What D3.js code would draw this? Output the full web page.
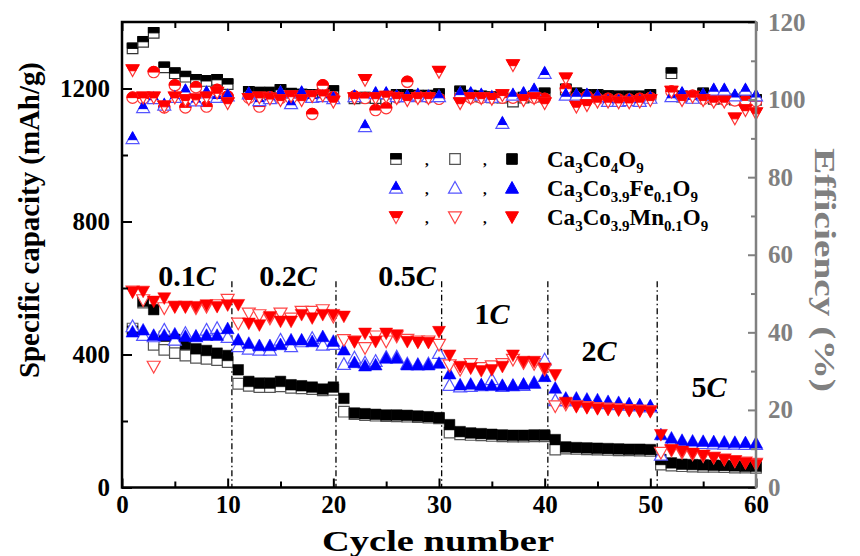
<!DOCTYPE html>
<html>
<head>
<meta charset="utf-8">
<script src="https://cdn.jsdelivr.net/npm/d3@7"></script>
<style>
  body { margin: 0; background: #fff; }
  svg { display: block; }
  text { font-family: "Liberation Serif", "Times New Roman", serif; font-weight: bold; }
</style>
</head>
<body>
<svg id="chart"></svg>
<script>
// capacity (mAh/g) per cycle 1..60
const coFill = [470,560,535,455,445,431,417,412,404,397, 354,319,314,314,319,309,306,302,296,302,
  268,224,222,220,218,218,217,215,213,210, 189,168,164,162,160,158,157,157,158,158,
  144,122,120,119,118,117,116,115,115,114, 84,74,70,69,68,67,66,65,64,64]
const coOpen = [478,556,429,414,404,397,390,387,383,377, 312,306,302,302,304,300,298,296,292,294,
  228,221,218,216,215,214,213,212,210,208, 165,160,158,157,155,154,153,153,154,154,
  114,117,116,115,114,113,112,112,111,110, 69,66,64,63,62,62,61,60,60,59]
const feFill = [468,474,458,458,462,455,455,458,458,478, 444,434,427,427,430,444,444,439,454,440,
  414,376,366,369,389,389,369,369,369,374, 342,309,311,309,307,307,307,311,314,334,
  299,269,269,266,264,259,256,252,249,246, 159,149,142,140,139,138,137,136,135,134]
const feOpen = [484,458,454,474,444,464,454,474,479,452, 424,417,414,414,444,424,439,449,429,431,
  371,390,375,380,392,393,372,370,372,404, 308,303,305,307,325,305,307,308,315,384,
  262,262,262,258,255,253,250,248,246,243, 98,135,134,133,133,132,131,131,130,130]
const mnFill = [588,590,560,570,544,544,544,549,544,549, 550,494,489,514,500,500,520,510,520,520,
  515,439,464,439,464,459,439,437,436,469, 398,364,359,351,354,364,398,379,379,359,
  339,256,244,240,237,235,233,232,230,229, 159,114,109,103,97,90,84,79,74,69]
const mnOpen = [590,564,364,540,544,544,540,544,549,565, 494,524,519,509,524,509,529,529,534,514,
  444,440,420,455,440,455,445,440,440,430, 368,355,372,360,365,372,385,375,372,355,
  245,250,245,243,240,238,236,234,232,230, 105,112,105,100,95,90,85,80,76,72]

// coulombic efficiency (%), no value on the first cycle of each rate
const coEff = [113.2,114.9,117.2,108.3,106.8,105.9,105.1,104.8,105.1,104.0, null,
  102.0,101.8,101.8,102.5,101.5,101.3,101.2,101.4,102.2, null,
  100.3,100.5,100.4,100.2,101.2,101.2,101.0,101.0,101.4, null,
  102.1,101.0,100.8,100.6,100.5,99.5,100.5,100.8,101.6, null,
  102.6,101.6,101.2,101.2,100.9,100.8,100.8,100.8,101.2, null,
  106.8,100.8,100.6,101.6,100.2,100.3,100.0,100.5,99.9]
const feEff = [90.0,98.0,100.3,98.6,100.6,102.3,99.7,101.8,100.6,101.0, null,
  101.5,99.8,100.3,101.8,99.0,101.8,100.6,100.8,100.3, null,
  100.8,93.1,101.6,101.6,100.8,100.8,101.2,100.8,100.8, null,
  101.6,101.6,101.2,100.6,93.9,101.2,101.6,102.5,106.8, null,
  101.2,101.2,101.2,100.8,99.6,99.6,99.8,99.6,100.4, null,
  100.8,101.6,100.4,101.2,102.5,102.5,101.0,102.5,101.0]
const mnEff = [107.6,100.6,100.6,98.3,100.6,99.9,100.1,100.6,101.8,99.1, null,
  100.2,100.6,100.3,99.9,100.9,99.9,100.9,101.1,99.5, null,
  100.4,105.1,100.4,100.8,100.4,99.9,100.4,100.4,107.2, null,
  99.1,100.4,100.4,100.2,101.2,108.9,99.9,100.4,99.1, null,
  105.5,98.2,98.6,99.5,99.5,99.3,99.3,99.5,99.9, null,
  102.1,99.9,100.8,99.9,99.5,99.5,95.2,97.3,96.5]
const circEff = [100.5,100.3,107.1,98.0,103.7,98.0,103.2,98.2,102.5,100.8, null,
  100.5,98.2,100.6,100.4,100.4,100.8,96.3,103.7,100.6, null,
  100.8,100.4,97.3,97.8,100.6,104.6,100.8,100.6,100.2, null,
  100.6,100.5,100.5,100.5,100.5,100.5,100.5,100.5,100.2, null,
  102.8,100.5,100.8,100.2,100.2,100.0,100.0,100.2,100.4, null,
  102.1,100.6,101.0,100.2,100.0,100.0,99.8,99.8,99.6]

const rateNames = ["0.1", "0.2", "0.5", "1", "2", "5"]
const rateX = [187, 288, 407, 492, 599, 709]
const rateY = [286, 286, 286, 324, 361, 397]
const boundaries = [10.4, 20.25, 30.25, 40.3, 50.65]
const capTicks = [0, 400, 800, 1200]
const effTicks = [0, 20, 40, 60, 80, 100, 120]
const cycleTicks = [0, 10, 20, 30, 40, 50, 60]

const w = 860, h = 556
const L = 122, R = 756, T = 22, B = 487.5

const svg = d3.select("#chart").attr("width", w).attr("height", h)

const x = d3.scaleLinear().domain([0, 60]).range([L, R])
const yCap = d3.scaleLinear().domain([0, 1400]).range([B, T])
const yEff = d3.scaleLinear().domain([0, 120]).range([B, T])

// marker paths
const sq = (cx, cy, r) => `M${cx-r},${cy-r}h${2*r}v${2*r}h${-2*r}Z`
const sqTop = (cx, cy, r) => `M${cx-r},${cy-r}h${2*r}v${r}h${-2*r}Z`
const tUp = (cx, cy, a) => `M${cx},${cy-a}L${cx+a},${cy+0.8*a}L${cx-a},${cy+0.8*a}Z`
const tUpTop = (cx, cy, a) => `M${cx},${cy-a}L${cx+0.667*a},${cy+0.2*a}L${cx-0.667*a},${cy+0.2*a}Z`
const tDn = (cx, cy, a) => `M${cx-a},${cy-0.8*a}L${cx+a},${cy-0.8*a}L${cx},${cy+a}Z`
const tDnTop = (cx, cy, a) => `M${cx-a},${cy-0.8*a}L${cx+a},${cy-0.8*a}L${cx+0.5*a},${cy+0.1*a}L${cx-0.5*a},${cy+0.1*a}Z`
const circ = (cx, cy, r) => `M${cx-r},${cy}A${r},${r} 0 1 1 ${cx+r},${cy}A${r},${r} 0 1 1 ${cx-r},${cy}Z`
const circTop = (cx, cy, r) => `M${cx-r},${cy}A${r},${r} 0 0 1 ${cx+r},${cy}Z`

const shapes = {
  sq: [sq, sqTop, 5.3], up: [tUp, tUpTop, 6.5], dn: [tDn, tDnTop, 6.5], ci: [circ, circTop, 5.7]
}

// dash-dot rate boundaries
svg.append("g").selectAll("line").data(boundaries).enter().append("line")
  .attr("x1", d => x(d)).attr("x2", d => x(d))
  .attr("y1", yCap(620)).attr("y2", B)
  .attr("stroke", "#000").attr("stroke-width", 1.3)
  .attr("stroke-dasharray", "6,3,1.5,3")

// capacity series
const drawOpen = (vals, shape, color) => {
  const [f, , r] = shapes[shape]
  svg.append("g").selectAll("path").data(vals).enter().append("path")
    .attr("d", (d, i) => f(x(i + 1), yCap(d), r))
    .attr("fill", "#fff").attr("stroke", color).attr("stroke-width", 1.2)
}
const drawFill = (vals, shape, color) => {
  const [f, , r] = shapes[shape]
  svg.append("g").selectAll("path").data(vals).enter().append("path")
    .attr("d", (d, i) => f(x(i + 1), yCap(d), r))
    .attr("fill", color).attr("stroke", color).attr("stroke-width", 0.5)
}
const drawHalf = (vals, shape, color, edge, scale) => {
  const [f, top, r] = shapes[shape]
  const g = svg.append("g")
  const pts = vals.map((v, i) => [i + 1, v]).filter(p => p[1] != null)
  const m = g.selectAll("g").data(pts).enter().append("g")
  m.append("path").attr("d", p => f(x(p[0]), scale(p[1]), r))
    .attr("fill", "#fff").attr("stroke", edge).attr("stroke-width", 1.2)
  m.append("path").attr("d", p => top(x(p[0]), scale(p[1]), r))
    .attr("fill", color).attr("stroke", color).attr("stroke-width", 1)
}

drawOpen(coOpen, "sq", "#555")
drawFill(coFill, "sq", "#000")
drawOpen(feOpen, "up", "#5555ff")
drawFill(feFill, "up", "#0000ff")
drawOpen(mnOpen, "dn", "#ff4444")
drawFill(mnFill, "dn", "#ff0000")

// efficiency series
drawHalf(coEff, "sq", "#000", "#333", yEff)
drawHalf(circEff, "ci", "#ff0000", "#ff3333", yEff)
drawHalf(feEff, "up", "#0000ff", "#5555ff", yEff)
drawHalf(mnEff, "dn", "#ff0000", "#ff3333", yEff)

// rate labels
const rl = svg.append("g").selectAll("text").data(rateNames).enter().append("text")
  .attr("x", (d, i) => rateX[i]).attr("y", (d, i) => rateY[i])
  .attr("text-anchor", "middle").attr("font-size", 30)
rl.append("tspan").text(d => d)
rl.append("tspan").attr("font-style", "italic").text("C")

// axes
const styleAx = (g, color) => {
  g.select(".domain").remove()
  g.selectAll("line").attr("stroke", color).attr("stroke-width", 2)
  g.selectAll("text").attr("fill", color).attr("font-size", 25)
    .attr("font-family", "Liberation Serif, serif").attr("font-weight", "bold")
}

const bx = svg.append("g").attr("transform", `translate(0,${B})`)
  .call(d3.axisBottom(x).tickValues(cycleTicks).tickSize(-9).tickPadding(8).tickFormat(d3.format("d")))
styleAx(bx, "#000")
const bxm = svg.append("g").attr("transform", `translate(0,${B})`)
  .call(d3.axisBottom(x).tickValues([5, 15, 25, 35, 45, 55]).tickSize(-6).tickFormat(""))
styleAx(bxm, "#000")
const tx = svg.append("g").attr("transform", `translate(0,${T})`)
  .call(d3.axisTop(x).tickValues(cycleTicks).tickSize(-9).tickFormat(""))
styleAx(tx, "#000")
const txm = svg.append("g").attr("transform", `translate(0,${T})`)
  .call(d3.axisTop(x).tickValues([5, 15, 25, 35, 45, 55]).tickSize(-6).tickFormat(""))
styleAx(txm, "#000")

const ly = svg.append("g").attr("transform", `translate(${L},0)`)
  .call(d3.axisLeft(yCap).tickValues(capTicks).tickSize(-10).tickPadding(12).tickFormat(d3.format("d")))
styleAx(ly, "#000")
const lym = svg.append("g").attr("transform", `translate(${L},0)`)
  .call(d3.axisLeft(yCap).tickValues([200, 600, 1000]).tickSize(-6).tickFormat(""))
styleAx(lym, "#000")

const ry = svg.append("g").attr("transform", `translate(${R},0)`)
  .call(d3.axisRight(yEff).tickValues(effTicks).tickSize(-8).tickPadding(12).tickFormat(d3.format("d")))
styleAx(ry, "#808080")
const rym = svg.append("g").attr("transform", `translate(${R},0)`)
  .call(d3.axisRight(yEff).tickValues([10, 30, 50, 70, 90, 110]).tickSize(-5).tickFormat(""))
styleAx(rym, "#808080")

// frame
svg.append("path").attr("d", `M${R},${T}H${L}V${B}H${R}`)
  .attr("fill", "none").attr("stroke", "#000").attr("stroke-width", 2.5)
svg.append("line").attr("x1", R).attr("x2", R).attr("y1", T - 1).attr("y2", B + 1)
  .attr("stroke", "#808080").attr("stroke-width", 2.5)

// axis titles
svg.append("text").attr("x", 438).attr("y", 551).attr("text-anchor", "middle")
  .attr("font-size", 29).attr("textLength", 232).attr("lengthAdjust", "spacingAndGlyphs")
  .text("Cycle number")
svg.append("text").attr("transform", "translate(39,220) rotate(-90)").attr("text-anchor", "middle")
  .attr("font-size", 29).attr("textLength", 316).attr("lengthAdjust", "spacingAndGlyphs")
  .text("Specific capacity (mAh/g)")
svg.append("text").attr("transform", "translate(815,270) rotate(90)").attr("text-anchor", "middle")
  .attr("font-size", 30).attr("fill", "#808080").attr("textLength", 244).attr("lengthAdjust", "spacingAndGlyphs")
  .text("Efficiency (%)")

// legend
const legNames = [
  [["Ca", 0], ["3", 1], ["Co", 0], ["4", 1], ["O", 0], ["9", 1]],
  [["Ca", 0], ["3", 1], ["Co", 0], ["3.9", 1], ["Fe", 0], ["0.1", 1], ["O", 0], ["9", 1]],
  [["Ca", 0], ["3", 1], ["Co", 0], ["3.9", 1], ["Mn", 0], ["0.1", 1], ["O", 0], ["9", 1]]
]
const legShapes = ["sq", "up", "dn"]
const legFill = ["#000", "#0000ff", "#ff0000"]
const legOpen = ["#555", "#5555ff", "#ff4444"]
const legY = [159, 188, 217]
legShapes.forEach((s, i) => {
  const [f, top, r] = shapes[s]
  const cy = legY[i]
  svg.append("path").attr("d", f(396, cy, r)).attr("fill", "#fff").attr("stroke", legOpen[i]).attr("stroke-width", 1.2)
  svg.append("path").attr("d", top(396, cy, r)).attr("fill", legFill[i]).attr("stroke", legFill[i])
  svg.append("path").attr("d", f(455, cy, r)).attr("fill", "#fff").attr("stroke", legOpen[i]).attr("stroke-width", 1.2)
  svg.append("path").attr("d", f(512, cy, r)).attr("fill", legFill[i]).attr("stroke", legFill[i])
  ;[425, 483].forEach(cx => svg.append("text").attr("x", cx).attr("y", cy + 6)
    .attr("font-size", 15).attr("font-weight", "normal").text(","))
  const t = svg.append("text").attr("x", 547).attr("y", cy + 8).attr("font-size", 23)
  let prev = 0
  legNames[i].forEach(([txt, sub]) => {
    t.append("tspan").attr("dy", sub === prev ? 0 : (sub ? 6 : -6))
      .attr("font-size", sub ? 15 : 23).text(txt)
    prev = sub
  })
})
</script>
</body>
</html>
